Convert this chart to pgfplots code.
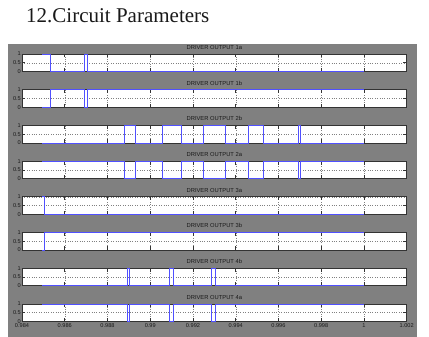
\documentclass[border=0pt]{standalone}
\usepackage{pgfplots}
\pgfplotsset{compat=1.18}
\usepackage{fontspec}
\setmainfont{Liberation Serif}
\newfontfamily\axfont{Liberation Sans}
\definecolor{figgray}{RGB}{128,128,128}
\definecolor{sig}{RGB}{80,80,255}
\pgfplotsset{panel/.style={
  scale only axis, width=384.7pt, height=17.5pt,
  xmin=0.984, xmax=1.002, ymin=0, ymax=1,
  xtick={0.984,0.986,0.988,0.990,0.992,0.994,0.996,0.998,1.000,1.002},
  xticklabels={},
  ytick={0,0.5,1}, yticklabels={0,0.5,1},
  tick align=inside, tick pos=both, ticklabel pos=left,
  major tick length=3.5pt,
  grid=major, grid style={dotted, black!50, line width=0.4pt},
  axis line style={black!80, line width=0.6pt},
  tick style={black!80, line width=0.6pt},
  axis background/.style={fill=white},
  clip=false,
  every axis title/.style={at={(0.5,1)}, anchor=base, yshift=4.5pt, inner sep=0pt,
    font=\axfont\fontsize{5.8}{6}\selectfont, text=black!90},
  yticklabel style={font=\axfont\fontsize{5.6}{6}\selectfont, inner sep=1pt, text=black!90},
  xticklabel style={font=\axfont\fontsize{5.6}{6}\selectfont, inner sep=1pt, yshift=-1.2pt, text=black!90},
  every axis plot post/.append style={sig, line width=0.75pt, const plot, mark=none},
  anchor=south west,
}}
\begin{document}
\begin{tikzpicture}
\path[use as bounding box] (0,0) rectangle (429pt,337pt);
\fill[figgray] (8pt,0) rectangle (417pt,293pt);
\node[anchor=base west, font=\fontsize{21}{24}\selectfont, inner sep=0pt, text=black!90] at (26pt,314pt) {12.Circuit Parameters};

\begin{axis}[panel, at={(22pt,265.5pt)}, title={DRIVER OUTPUT 1a}]
\addplot coordinates {(0.98494,1) (0.98533,0) (0.98692,1) (0.98706,0) (1.0,0)};
\end{axis}

\begin{axis}[panel, at={(22pt,229.8pt)}, title={DRIVER OUTPUT 1b}]
\addplot coordinates {(0.98494,0) (0.98533,1) (0.98692,0) (0.98706,1) (1.0,1)};
\end{axis}

\begin{axis}[panel, at={(22pt,194.1pt)}, title={DRIVER OUTPUT 2b}]
\addplot coordinates {(0.98494,0) (0.98880,1) (0.98931,0) (0.99058,1) (0.99147,0) (0.99250,1) (0.99350,0) (0.99461,1) (0.99528,0) (0.99695,1) (0.99703,0) (1.0,0)};
\end{axis}

\begin{axis}[panel, at={(22pt,158.4pt)}, title={DRIVER OUTPUT 2a}]
\addplot coordinates {(0.98494,1) (0.98880,0) (0.98931,1) (0.99058,0) (0.99147,1) (0.99250,0) (0.99350,1) (0.99461,0) (0.99528,1) (0.99695,0) (0.99703,1) (1.0,1)};
\end{axis}

\begin{axis}[panel, at={(22pt,122.7pt)}, title={DRIVER OUTPUT 3a}]
\addplot coordinates {(0.98494,1) (0.98505,0) (1.0,0)};
\end{axis}

\begin{axis}[panel, at={(22pt,87.0pt)}, title={DRIVER OUTPUT 3b}]
\addplot coordinates {(0.98494,0) (0.98505,1) (1.0,1)};
\end{axis}

\begin{axis}[panel, at={(22pt,51.3pt)}, title={DRIVER OUTPUT 4b}]
\addplot coordinates {(0.98494,0) (0.98892,1) (0.98903,0) (0.99091,1) (0.99109,0) (0.99288,1) (0.99306,0) (1.0,0)};
\end{axis}

\begin{axis}[panel, at={(22pt,15.6pt)}, title={DRIVER OUTPUT 4a},
  xticklabels={0.984,0.986,0.988,0.99,0.992,0.994,0.996,0.998,1,1.002}]
\addplot coordinates {(0.98494,1) (0.98892,0) (0.98903,1) (0.99091,0) (0.99109,1) (0.99288,0) (0.99306,1) (1.0,1)};
\end{axis}
\end{tikzpicture}
\end{document}
